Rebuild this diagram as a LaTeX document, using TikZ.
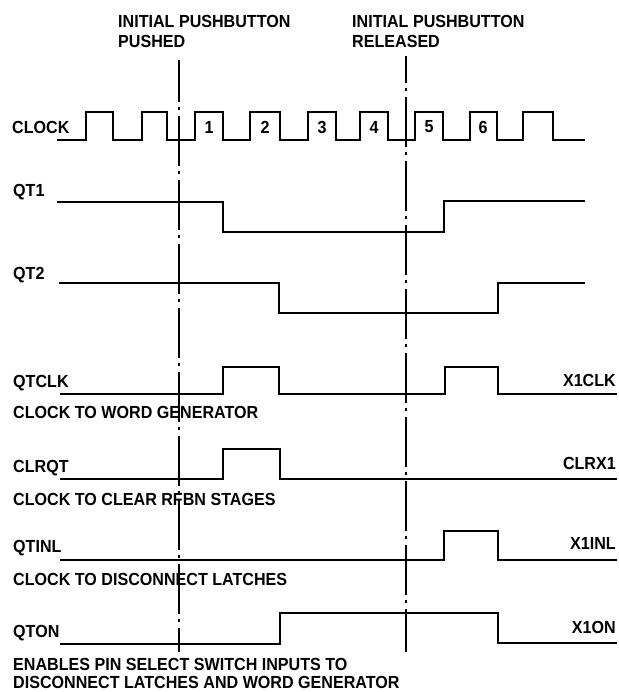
\documentclass[tikz,border=0pt]{standalone}
\usepackage{fontspec}
\setmainfont{Liberation Sans}[FakeStretch=0.92]
\usepackage{tikz}
\tikzstyle{signal}=[line width=1.8pt]
\tikzstyle{marker}=[line width=1.4pt,dash pattern=on 50pt off 5pt on 3pt off 6pt]
\tikzstyle{lbl}=[inner sep=0pt,font=\bfseries\fontsize{17.5}{20}\selectfont]

\begin{document}
\begin{tikzpicture}[x=1pt,y=-1pt,
every node/.style={lbl},
left label/.style={anchor=west},
right label/.style={anchor=east}]
\useasboundingbox (0,0) rectangle (618,692);
% event markers
\coordinate (pushtop) at (179,60);
\coordinate (pushbot) at (179,652);
\coordinate (reltop) at (406,56);
\coordinate (relbot) at (406,652);
\draw[marker,dash phase=8pt] (pushtop) -- (pushbot);
\draw[marker,dash phase=23pt] (reltop) -- (relbot);
\node[left label,align=left] (pushed) at (118,31) {INITIAL PUSHBUTTON\\PUSHED};
\node[left label,align=left] (released) at (352,31) {INITIAL PUSHBUTTON\\RELEASED};
% clock
\node[left label] (clock) at (12,127) {CLOCK};
\draw[signal] (57,140)
    foreach \r/\f in {86/113,142/167,195/223,250/280,308/336,360/388,415/443,470/497,523/553} {
        -- (\r,140) -- (\r,112) -- (\f,112) -- (\f,140)
    } -- (585,140);
\foreach \n/\x in {1/209,2/265,3/322,4/374,5/429,6/483}
    \node (cyc\n) at (\x,127) {\n};
% QT1
\node[left label] (qt1) at (13,192) {QT1};
\draw[signal] (57,202) -- (223,202) -- (223,232) -- (444,232) -- (444,201) -- (585,201);
% QT2
\node[left label] (qt2) at (13,275) {QT2};
\draw[signal] (59,283) -- (279,283) -- (279,313) -- (498,313) -- (498,283) -- (585,283);
% QTCLK
\node[left label] (qtclk) at (13,383) {QTCLK};
\node[right label] (x1clk) at (616,380) {X1CLK};
\node[left label] (qtclkdesc) at (13,412) {CLOCK TO WORD GENERATOR};
\draw[signal] (60,394) -- (223,394) -- (223,367) -- (279,367) -- (279,394)
    -- (445,394) -- (445,367) -- (498,367) -- (498,394) -- (617,394);
% CLRQT
\node[left label] (clrqt) at (13,468) {CLRQT};
\node[right label] (clrx1) at (616,463) {CLRX1};
\node[left label] (clrqtdesc) at (13,499) {CLOCK TO CLEAR RFBN STAGES};
\draw[signal] (60,479) -- (223,479) -- (223,449) -- (280,449) -- (280,479) -- (617,479);
% QTINL
\node[left label] (qtinl) at (13,548) {QTINL};
\node[right label] (x1inl) at (616,543) {X1INL};
\node[left label] (qtinldesc) at (13,579) {CLOCK TO DISCONNECT LATCHES};
\draw[signal] (60,560) -- (444,560) -- (444,531) -- (498,531) -- (498,560) -- (617,560);
% QTON
\node[left label] (qton) at (13,633) {QTON};
\node[right label] (x1on) at (616,627) {X1ON};
\node[left label,align=left,font=\bfseries\fontsize{17.5}{18}\selectfont] (qtondesc) at (13,673)
    {ENABLES PIN SELECT SWITCH INPUTS TO\\DISCONNECT LATCHES AND WORD GENERATOR};
\draw[signal] (60,644) -- (280,644) -- (280,613) -- (498,613) -- (498,643) -- (617,643);
\end{tikzpicture}
\end{document}
